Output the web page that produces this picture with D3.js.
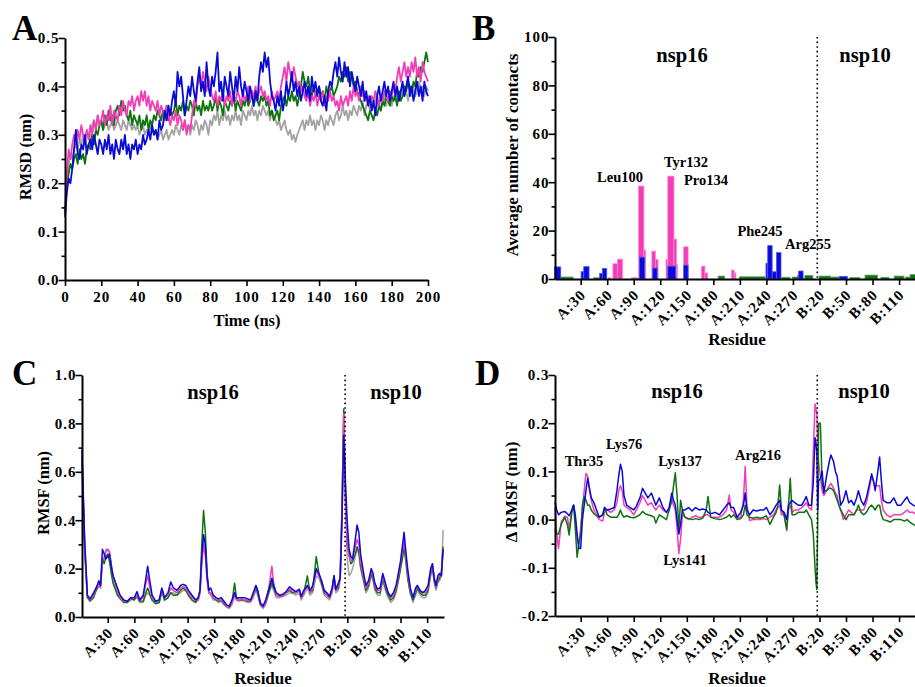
<!DOCTYPE html>
<html><head><meta charset="utf-8">
<script src="https://cdn.jsdelivr.net/npm/d3@7"></script>
<style>
body{margin:0;background:#fff}
</style></head><body>
<svg id="chart" width="915" height="687"></svg>
<script>
// ---------------- DATA ----------------
const seriesColors = { grey: "#a3a3a3", green: "#0e720e", pink: "#f23db6", blue: "#0a0ad6" };
const seriesLight  = { green: "#4f9f4f", pink: "#ff86d6", blue: "#4d55ff" };

// Panel A : RMSD (nm), one value every 1 ns, 0..200 ns
const rmsdStepNs = 1;
const rmsdGrey = [0.14,0.20,0.24,0.26,0.25,0.27,0.28,0.27,0.29,0.28,
 0.30,0.29,0.31,0.30,0.29,0.32,0.33,0.31,0.34,0.32,
 0.33,0.31,0.32,0.33,0.31,0.32,0.33,0.31,0.32,0.33,
 0.32,0.31,0.33,0.32,0.31,0.33,0.32,0.31,0.32,0.31,
 0.32,0.30,0.31,0.32,0.30,0.31,0.30,0.32,0.31,0.30,
 0.31,0.29,0.30,0.31,0.29,0.30,0.31,0.29,0.30,0.31,
 0.30,0.32,0.31,0.30,0.32,0.31,0.33,0.31,0.32,0.30,
 0.32,0.31,0.33,0.32,0.30,0.32,0.31,0.33,0.32,0.30,
 0.33,0.32,0.34,0.33,0.35,0.32,0.34,0.33,0.35,0.33,
 0.34,0.32,0.34,0.33,0.35,0.33,0.34,0.32,0.35,0.34,
 0.33,0.35,0.34,0.36,0.34,0.35,0.33,0.35,0.34,0.36,
 0.35,0.34,0.35,0.33,0.35,0.34,0.33,0.32,0.33,0.31,
 0.32,0.33,0.31,0.30,0.31,0.29,0.30,0.285,0.30,0.31,
 0.32,0.33,0.31,0.33,0.32,0.34,0.32,0.33,0.31,0.33,
 0.32,0.34,0.33,0.31,0.33,0.32,0.34,0.33,0.32,0.34,
 0.35,0.33,0.34,0.36,0.34,0.35,0.33,0.35,0.34,0.36,
 0.35,0.34,0.36,0.35,0.37,0.34,0.36,0.37,0.35,0.37,
 0.36,0.38,0.36,0.37,0.35,0.37,0.38,0.36,0.38,0.37,
 0.36,0.38,0.37,0.39,0.37,0.38,0.40,0.38,0.39,0.37,
 0.39,0.38,0.40,0.38,0.39,0.41,0.39,0.40,0.38,0.40,
 0.39];
const rmsdGreen = [0.14,0.19,0.22,0.24,0.23,0.25,0.26,0.24,0.27,0.25,
 0.26,0.24,0.27,0.28,0.27,0.30,0.28,0.31,0.30,0.32,
 0.33,0.31,0.34,0.32,0.35,0.33,0.34,0.32,0.35,0.36,
 0.34,0.37,0.35,0.36,0.34,0.33,0.35,0.32,0.34,0.33,
 0.32,0.34,0.31,0.33,0.32,0.34,0.31,0.33,0.32,0.34,
 0.33,0.35,0.34,0.33,0.35,0.34,0.36,0.33,0.35,0.34,
 0.35,0.37,0.34,0.36,0.35,0.37,0.34,0.36,0.35,0.37,
 0.36,0.34,0.37,0.35,0.36,0.34,0.37,0.35,0.36,0.35,
 0.37,0.35,0.36,0.38,0.35,0.37,0.36,0.34,0.37,0.36,
 0.35,0.37,0.36,0.38,0.35,0.37,0.36,0.35,0.37,0.36,
 0.38,0.36,0.37,0.39,0.36,0.38,0.37,0.36,0.38,0.37,
 0.38,0.36,0.37,0.34,0.35,0.33,0.34,0.35,0.33,0.36,
 0.37,0.38,0.36,0.38,0.37,0.39,0.37,0.38,0.36,0.38,
 0.40,0.43,0.41,0.40,0.42,0.39,0.38,0.40,0.38,0.39,
 0.40,0.38,0.39,0.37,0.40,0.38,0.39,0.40,0.38,0.39,
 0.40,0.42,0.41,0.43,0.42,0.44,0.41,0.43,0.42,0.40,
 0.41,0.39,0.38,0.37,0.36,0.35,0.34,0.33,0.35,0.34,
 0.33,0.35,0.34,0.36,0.35,0.37,0.36,0.38,0.37,0.36,
 0.38,0.37,0.38,0.36,0.39,0.37,0.38,0.40,0.39,0.41,
 0.40,0.39,0.41,0.40,0.43,0.42,0.44,0.43,0.45,0.47,
 0.45];
const rmsdPink = [0.14,0.22,0.27,0.25,0.28,0.30,0.28,0.31,0.29,0.32,
 0.30,0.28,0.31,0.29,0.32,0.30,0.33,0.31,0.34,0.32,
 0.33,0.35,0.32,0.34,0.33,0.36,0.32,0.35,0.34,0.33,
 0.36,0.34,0.37,0.35,0.34,0.37,0.36,0.38,0.35,0.37,
 0.38,0.36,0.39,0.37,0.39,0.36,0.38,0.35,0.37,0.36,
 0.35,0.37,0.34,0.36,0.35,0.33,0.36,0.34,0.32,0.34,
 0.33,0.35,0.32,0.34,0.33,0.31,0.33,0.30,0.32,0.31,
 0.34,0.37,0.36,0.40,0.42,0.40,0.43,0.41,0.39,0.42,
 0.40,0.38,0.37,0.39,0.36,0.38,0.37,0.39,0.36,0.38,
 0.37,0.39,0.36,0.38,0.37,0.39,0.38,0.36,0.39,0.37,
 0.38,0.40,0.37,0.39,0.38,0.40,0.37,0.39,0.40,0.38,
 0.39,0.37,0.38,0.36,0.39,0.37,0.38,0.39,0.37,0.40,
 0.42,0.44,0.41,0.45,0.43,0.41,0.44,0.42,0.40,0.41,
 0.39,0.40,0.38,0.37,0.39,0.36,0.38,0.37,0.39,0.36,
 0.38,0.37,0.39,0.36,0.38,0.37,0.39,0.37,0.38,0.36,
 0.37,0.35,0.38,0.36,0.37,0.38,0.36,0.39,0.37,0.40,
 0.38,0.39,0.37,0.40,0.38,0.39,0.37,0.38,0.36,0.38,
 0.37,0.39,0.38,0.36,0.38,0.37,0.39,0.38,0.37,0.39,
 0.38,0.40,0.39,0.42,0.44,0.41,0.43,0.45,0.42,0.44,
 0.42,0.45,0.43,0.46,0.42,0.44,0.41,0.45,0.43,0.42,
 0.41];
const rmsdBlue = [0.13,0.18,0.21,0.20,0.23,0.27,0.31,0.26,0.25,0.28,
 0.27,0.30,0.26,0.28,0.29,0.27,0.30,0.28,0.26,0.29,
 0.28,0.26,0.29,0.27,0.30,0.26,0.28,0.25,0.29,0.27,
 0.26,0.29,0.27,0.30,0.26,0.28,0.25,0.28,0.27,0.29,
 0.26,0.28,0.27,0.30,0.28,0.29,0.31,0.29,0.32,0.30,
 0.31,0.29,0.33,0.31,0.32,0.35,0.33,0.36,0.34,0.37,
 0.39,0.36,0.43,0.40,0.42,0.38,0.34,0.37,0.40,0.38,
 0.42,0.39,0.37,0.41,0.44,0.39,0.41,0.38,0.45,0.40,
 0.38,0.42,0.40,0.43,0.47,0.39,0.41,0.37,0.42,0.40,
 0.38,0.43,0.40,0.37,0.42,0.39,0.44,0.40,0.38,0.41,
 0.39,0.37,0.40,0.38,0.36,0.39,0.37,0.42,0.45,0.43,
 0.47,0.44,0.46,0.41,0.38,0.37,0.35,0.38,0.36,0.39,
 0.35,0.37,0.41,0.38,0.40,0.43,0.39,0.41,0.38,0.40,
 0.37,0.39,0.41,0.38,0.40,0.37,0.42,0.39,0.41,0.38,
 0.40,0.37,0.36,0.38,0.35,0.39,0.41,0.40,0.43,0.45,
 0.42,0.46,0.43,0.41,0.45,0.42,0.44,0.40,0.43,0.41,
 0.39,0.42,0.40,0.38,0.41,0.37,0.39,0.36,0.38,0.35,
 0.37,0.34,0.38,0.40,0.37,0.39,0.41,0.38,0.40,0.37,
 0.39,0.41,0.38,0.40,0.37,0.39,0.41,0.38,0.40,0.42,
 0.38,0.40,0.37,0.39,0.41,0.38,0.40,0.37,0.41,0.39,
 0.38];
const timeTicks = [0,20,40,60,80,100,120,140,160,180,200];

// Residue axis (continuous index: nsp16 chain A, then nsp10 chain B)
const residueTickIndex  = [30,60,90,120,150,180,210,240,270,300,330,360,390];
const residueTickLabels = ["A:30","A:60","A:90","A:120","A:150","A:180","A:210","A:240","A:270","B:20","B:50","B:80","B:110"];
const chainBoundary = 297.5;

// Panel B : average number of contacts, [fromResidue, toResidue, value]
const contactsGreen = [[8,21,0.8],[45,52,0.5],[90,96,0.4],[186,192,1.2],[210,238,0.9],[258,266,0.7],[270,275,0.8],[284,292,1.4],[300,312,1.2],[313,322,0.8],[335,345,0.6],[352,365,1.6],[370,378,0.7],[385,395,1.2],[398,402,0.8],[403,408,1.8]];
const contactsPink = [[62,63,0.5],[67,71,6.3],[72,77,8.2],[88,92,0.5],[96,101,38.4],[102,103,12],[111,114,11.5],[115,117,8],[127,128,8],[129,135,42.5],[136,138,16.5],[139,139,6],[147,151,13.3],[167,170,5.3],[171,173,2.5],[201,203,3.7],[204,205,2.5]];
const contactsBlue = [[1,7,5],[31,33,3],[34,39,5.1],[52,54,2.3],[55,59,4.4],[97,102,9],[112,116,4.5],[129,137,5.3],[147,151,5.7],[240,241,6.5],[242,246,13.8],[247,251,3],[252,256,10.9],[276,276,1.5],[277,281,3.3],[323,331,1.1]];
const contactLabels = ["Leu100","Tyr132","Pro134","Phe245","Arg255"];

// Panel C : RMSF (nm)
const rmsfResidue = [1,4,7,10,14,17,20,22,24,26,
 28,30,32,34,36,38,41,44,48,52,
 56,60,63,66,70,73,75,77,80,84,
 88,91,94,98,101,104,108,112,115,118,
 121,125,129,132,134,136,138,140,142,144,
 146,149,152,155,158,161,164,167,170,173,
 175,178,181,184,188,191,194,197,199,202,
 205,208,212,215,217,220,224,228,231,235,
 238,242,246,248,251,255,258,261,265,268,
 271,274,277,280,283,285,287,290,292,294,
 296,298,300,302,304,306,309,311,313,315,
 318,321,324,327,329,331,334,337,340,343,
 346,349,352,355,358,360,362,364,366,368,
 371,374,377,379,382,385,388,391,394,396,
 398,400,402,404,406,408];
const rmsfGrey = [0.66,0.30,0.09,0.07,0.09,0.12,0.14,0.13,0.22,0.25,
 0.28,0.28,0.26,0.20,0.15,0.13,0.10,0.08,0.065,0.06,
 0.07,0.075,0.08,0.06,0.06,0.09,0.10,0.09,0.07,0.06,
 0.06,0.10,0.07,0.08,0.10,0.10,0.09,0.10,0.11,0.11,
 0.09,0.07,0.06,0.07,0.10,0.24,0.33,0.28,0.16,0.10,
 0.09,0.07,0.07,0.06,0.065,0.05,0.04,0.035,0.05,0.09,
 0.07,0.065,0.07,0.065,0.06,0.06,0.08,0.11,0.09,0.05,
 0.035,0.05,0.10,0.13,0.11,0.08,0.08,0.085,0.09,0.10,
 0.10,0.09,0.10,0.07,0.09,0.12,0.09,0.10,0.17,0.16,
 0.13,0.09,0.08,0.07,0.10,0.15,0.10,0.11,0.15,0.40,
 0.80,0.45,0.24,0.17,0.18,0.20,0.25,0.28,0.26,0.20,
 0.15,0.10,0.12,0.17,0.15,0.11,0.09,0.09,0.15,0.11,
 0.08,0.06,0.07,0.10,0.16,0.20,0.24,0.30,0.24,0.17,
 0.10,0.06,0.09,0.11,0.09,0.08,0.08,0.10,0.17,0.20,
 0.14,0.11,0.14,0.15,0.17,0.36];
const rmsfGreen = [0.64,0.28,0.08,0.065,0.08,0.11,0.13,0.14,0.24,0.22,
 0.25,0.26,0.23,0.18,0.14,0.12,0.09,0.075,0.06,0.06,
 0.075,0.07,0.09,0.065,0.065,0.10,0.12,0.10,0.07,0.055,
 0.06,0.11,0.07,0.08,0.10,0.09,0.09,0.11,0.12,0.11,
 0.09,0.07,0.06,0.08,0.11,0.30,0.44,0.35,0.18,0.10,
 0.10,0.08,0.07,0.065,0.07,0.055,0.045,0.04,0.06,0.14,
 0.08,0.07,0.07,0.07,0.065,0.065,0.09,0.12,0.10,0.05,
 0.04,0.06,0.11,0.14,0.12,0.09,0.085,0.09,0.10,0.11,
 0.10,0.10,0.11,0.08,0.10,0.17,0.10,0.11,0.25,0.18,
 0.14,0.10,0.09,0.08,0.12,0.17,0.11,0.12,0.17,0.45,
 0.86,0.50,0.30,0.26,0.22,0.23,0.26,0.29,0.27,0.21,
 0.16,0.11,0.13,0.18,0.16,0.12,0.10,0.10,0.16,0.12,
 0.09,0.07,0.08,0.11,0.16,0.20,0.24,0.29,0.23,0.16,
 0.10,0.07,0.10,0.12,0.10,0.09,0.09,0.11,0.18,0.21,
 0.15,0.12,0.15,0.16,0.18,0.29];
const rmsfPink = [0.66,0.30,0.09,0.07,0.09,0.12,0.13,0.12,0.24,0.24,
 0.27,0.28,0.27,0.22,0.17,0.15,0.11,0.08,0.065,0.065,
 0.075,0.08,0.09,0.07,0.08,0.14,0.17,0.13,0.08,0.065,
 0.07,0.115,0.08,0.09,0.12,0.11,0.10,0.12,0.125,0.12,
 0.10,0.08,0.07,0.07,0.10,0.22,0.30,0.25,0.15,0.10,
 0.10,0.08,0.075,0.07,0.07,0.06,0.045,0.04,0.06,0.09,
 0.07,0.07,0.075,0.07,0.07,0.065,0.09,0.13,0.11,0.055,
 0.04,0.06,0.13,0.21,0.14,0.09,0.085,0.09,0.10,0.115,
 0.11,0.10,0.11,0.08,0.10,0.13,0.10,0.12,0.19,0.17,
 0.15,0.11,0.09,0.08,0.11,0.16,0.11,0.13,0.17,0.44,
 0.84,0.48,0.30,0.25,0.23,0.24,0.29,0.32,0.30,0.23,
 0.17,0.12,0.14,0.19,0.17,0.13,0.11,0.11,0.17,0.13,
 0.10,0.08,0.09,0.12,0.18,0.22,0.27,0.32,0.25,0.18,
 0.11,0.08,0.11,0.13,0.11,0.10,0.10,0.12,0.19,0.22,
 0.16,0.12,0.16,0.17,0.17,0.28];
const rmsfBlue = [0.69,0.32,0.09,0.075,0.10,0.12,0.15,0.13,0.28,0.26,
 0.24,0.25,0.26,0.21,0.17,0.15,0.12,0.09,0.07,0.065,
 0.08,0.08,0.105,0.07,0.09,0.16,0.21,0.16,0.09,0.065,
 0.07,0.12,0.08,0.10,0.145,0.12,0.11,0.13,0.135,0.13,
 0.11,0.09,0.07,0.08,0.11,0.25,0.34,0.30,0.17,0.11,
 0.12,0.09,0.08,0.075,0.08,0.065,0.05,0.045,0.07,0.10,
 0.08,0.08,0.08,0.08,0.075,0.07,0.10,0.13,0.11,0.06,
 0.045,0.07,0.12,0.16,0.13,0.10,0.09,0.095,0.105,0.125,
 0.115,0.105,0.115,0.085,0.11,0.13,0.11,0.13,0.20,0.18,
 0.15,0.11,0.10,0.085,0.12,0.17,0.115,0.14,0.16,0.40,
 0.75,0.55,0.39,0.28,0.25,0.24,0.32,0.38,0.35,0.26,
 0.19,0.13,0.15,0.20,0.18,0.14,0.115,0.12,0.18,0.14,
 0.10,0.085,0.10,0.13,0.19,0.23,0.29,0.35,0.27,0.20,
 0.12,0.08,0.12,0.13,0.11,0.10,0.11,0.13,0.20,0.22,
 0.16,0.13,0.17,0.18,0.17,0.28];

// Panel D : delta RMSF (nm)
const dResidue = [1,3,5,8,12,15,17,20,22,24,
 26,28,30,32,34,36,38,40,42,45,
 48,51,55,57,60,64,68,71,73,75,
 77,79,82,86,90,93,97,100,103,106,
 110,113,115,119,123,127,130,133,135,137,
 139,141,143,145,148,152,156,160,164,168,
 172,174,177,182,187,191,195,198,200,203,
 207,211,214,216,218,221,225,229,233,237,
 240,244,248,251,253,255,257,260,263,265,
 267,269,272,276,280,283,285,288,291,293,
 295,296,297,298,299,301,303,305,308,311,
 313,316,318,320,322,324,327,330,333,336,
 339,342,344,347,350,353,356,359,361,363,
 366,368,370,372,376,380,384,388,392,396,
 399,402,406,408];
const dPink = [0.027,-0.03,-0.06,-0.005,0.007,0.005,-0.02,0.02,0.03,0.0,
 -0.04,-0.05,-0.02,0.02,0.06,0.096,0.09,0.06,0.04,0.02,
 0.01,0.0,-0.003,0.015,0.02,0.015,0.02,0.035,0.06,0.07,
 0.06,0.03,0.025,0.02,0.01,0.02,0.035,0.05,0.04,0.03,
 0.035,0.025,0.02,0.03,0.02,0.015,0.02,0.04,0.03,0.02,
 -0.02,-0.07,-0.04,0.01,0.005,0.0,0.005,0.008,0.004,0.006,
 0.01,0.01,0.005,0.005,0.005,0.01,0.02,0.051,0.02,0.015,
 0.003,0.005,0.04,0.11,0.03,-0.002,0.0,0.0,0.0,0.002,
 0.0,0.005,0.01,0.02,0.025,0.03,0.01,0.01,-0.023,0.02,
 0.03,0.015,0.02,0.02,0.025,0.03,0.035,0.025,0.02,0.14,
 0.24,0.23,0.22,0.15,0.12,0.09,0.06,0.05,0.06,0.07,
 0.075,0.065,0.055,0.05,0.03,0.02,0.0,0.01,0.02,0.015,
 0.01,0.02,0.02,0.02,0.02,0.035,0.06,0.09,0.08,0.07,
 0.07,0.07,0.04,0.02,0.01,0.005,0.01,0.01,0.01,0.015,
 0.02,0.015,0.015,0.012];
const dGreen = [-0.02,-0.03,-0.03,-0.01,0.005,-0.01,-0.032,0.015,0.03,-0.02,
 -0.078,-0.05,-0.03,0.03,0.048,0.04,0.03,0.03,0.02,0.012,
 0.008,0.005,0.01,0.025,0.01,0.005,0.005,0.005,0.01,0.02,
 0.01,0.005,0.008,0.005,0.004,0.006,0.01,0.017,0.012,0.01,
 0.008,0.005,-0.007,0.01,0.005,0.0,0.02,0.04,0.07,0.097,
 0.05,-0.02,0.04,0.02,0.005,0.002,0.0,0.002,0.0,0.003,
 0.02,0.048,0.005,0.002,0.0,0.002,0.005,0.01,0.005,0.01,
 0.0,0.002,0.01,0.03,0.01,0.005,0.003,0.005,0.003,0.005,
 0.008,-0.01,0.005,0.015,0.03,0.072,0.02,0.01,-0.02,0.03,
 0.086,0.01,0.01,0.015,0.015,0.015,0.02,0.01,0.0,-0.03,
 -0.1,-0.13,-0.145,0.0,0.2,0.2,0.075,0.06,0.06,0.065,
 0.065,0.06,0.05,0.04,0.03,0.02,0.01,0.0,0.01,0.01,
 0.01,0.02,0.03,0.015,0.01,0.015,0.025,0.03,0.025,0.02,
 0.03,0.03,0.01,0.0,-0.002,-0.005,0.0,0.0,0.0,-0.003,
 0.0,-0.005,-0.01,-0.012];
const dBlue = [0.037,0.02,0.01,0.015,0.017,0.012,0.008,0.02,0.03,0.01,
 -0.03,-0.06,-0.06,0.0,0.03,0.06,0.086,0.065,0.045,0.035,
 0.02,0.005,0.01,0.025,0.02,0.022,0.025,0.06,0.09,0.115,
 0.1,0.05,0.03,0.025,0.02,0.028,0.045,0.065,0.055,0.045,
 0.055,0.04,0.03,0.045,0.025,0.015,0.025,0.055,0.04,0.03,
 0.0,-0.03,-0.01,0.02,0.02,0.025,0.018,0.025,0.02,0.022,
 0.02,0.015,0.012,0.015,0.01,0.02,0.03,0.035,0.025,0.025,
 0.005,0.015,0.03,0.055,0.02,0.01,0.02,0.018,0.02,0.02,
 0.025,0.01,0.02,0.03,0.035,0.04,0.02,0.015,0.0,0.03,
 0.035,0.04,0.035,0.03,0.03,0.04,0.048,0.03,0.03,0.076,
 0.17,0.16,0.14,0.02,0.08,0.085,0.1,0.055,0.09,0.12,
 0.134,0.12,0.1,0.09,0.06,0.03,0.04,0.06,0.035,0.04,
 0.03,0.045,0.06,0.04,0.03,0.045,0.07,0.095,0.08,0.06,
 0.1,0.13,0.08,0.04,0.035,0.035,0.045,0.03,0.03,0.04,
 0.047,0.035,0.03,0.028];
const dLabels = ["Thr35","Lys76","Lys137","Lys141","Arg216"];

// ---------------- DRAWING ----------------
const FONT = '"Liberation Serif","Times New Roman",serif';
const svg = d3.select("#chart");

const xA = d3.scaleLinear().domain([0,200]).range([65,428]);
const yA = d3.scaleLinear().domain([0,0.5]).range([280,38]);
const xB = d3.scaleLinear().domain([1,408]).range([555,915]);
const yB = d3.scaleLinear().domain([0,100]).range([279,37]);
const xC = d3.scaleLinear().domain([1,409]).range([82,444]);
const yC = d3.scaleLinear().domain([0,1]).range([617,375]);
const xD = d3.scaleLinear().domain([1,408]).range([555,915]);
const yD = d3.scaleLinear().domain([-0.2,0.3]).range([616,375]);

function txt(x, y, s, size, anchor = "middle", rot = 0) {
  return svg.append("text")
    .attr("transform", `translate(${x},${y})` + (rot ? ` rotate(${rot})` : ""))
    .attr("text-anchor", anchor)
    .attr("font-family", FONT).attr("font-weight", "bold")
    .attr("font-size", size).attr("fill", "#000").text(s);
}
function styleAxis(g) {
  g.attr("font-family", null).attr("font-size", null);
  g.select(".domain").attr("stroke", "#000").attr("stroke-width", 2);
  g.selectAll(".tick line").attr("stroke", "#000").attr("stroke-width", 1.6);
  g.selectAll("text").attr("font-family", FONT).attr("font-weight", "bold")
    .attr("font-size", 15).attr("letter-spacing", 1).attr("fill", "#000");
}
function drawYAxis(xPos, scale, majors, minors, fmt) {
  const gm = svg.append("g").attr("transform", `translate(${xPos},0)`)
    .call(d3.axisLeft(scale).tickValues(minors).tickSize(3.5).tickSizeOuter(0).tickFormat(""));
  gm.select(".domain").remove();
  gm.selectAll("line").attr("stroke", "#000").attr("stroke-width", 1.6);
  const g = svg.append("g").attr("transform", `translate(${xPos},0)`)
    .call(d3.axisLeft(scale).tickValues(majors).tickSize(6.5).tickSizeOuter(0).tickPadding(-1).tickFormat(fmt));
  styleAxis(g);
}
function drawResidueAxis(scale, yPos) {
  const g = svg.append("g").attr("transform", `translate(0,${yPos})`)
    .call(d3.axisBottom(scale).tickValues(residueTickIndex).tickSize(6).tickSizeOuter(0)
      .tickFormat((d, i) => residueTickLabels[i]));
  styleAxis(g);
  g.selectAll("text").attr("y", null).attr("dy", "0.35em").attr("text-anchor", "end")
    .attr("transform", "translate(2,13) rotate(-45)");
}
function drawLine(xs, ys, xScale, yScale, color, w) {
  const pts = xs.map((x, i) => [x, ys[i]]);
  svg.append("path").datum(pts)
    .attr("d", d3.line().x(d => xScale(d[0])).y(d => yScale(d[1])))
    .attr("fill", "none").attr("stroke", color).attr("stroke-width", w)
    .attr("stroke-linejoin", "round");
}
function dotted(xScale, p, y0, y1) {
  svg.append("line").attr("x1", xScale(p)).attr("x2", xScale(p)).attr("y1", y0).attr("y2", y1)
    .attr("stroke", "#000").attr("stroke-width", 1.6).attr("stroke-dasharray", "1.6,3");
}
const fmt1 = v => v.toFixed(1);

// ---- Panel A ----
const rmsdTime = rmsdGrey.map((_, i) => i * rmsdStepNs);
drawLine(rmsdTime, rmsdGrey, xA, yA, seriesColors.grey, 1.8);
drawLine(rmsdTime, rmsdGreen, xA, yA, seriesColors.green, 1.8);
drawLine(rmsdTime, rmsdPink, xA, yA, seriesColors.pink, 1.8);
drawLine(rmsdTime, rmsdBlue, xA, yA, seriesColors.blue, 1.8);
drawYAxis(65, yA, [0,0.1,0.2,0.3,0.4,0.5], [0.05,0.15,0.25,0.35,0.45], fmt1);
{
  const g = svg.append("g").attr("transform", "translate(0,280)")
    .call(d3.axisBottom(xA).tickValues(timeTicks).tickSize(6).tickSizeOuter(0).tickPadding(5));
  styleAxis(g);
}
txt(12, 40, "A", 35, "start");
txt(247, 326, "Time (ns)", 16.5);
txt(31, 157, "RMSD (nm)", 16.5, "middle", -90);

// ---- Panel B ----
function drawContacts(segs, color, light) {
  svg.append("g").selectAll("rect").data(segs).join("rect")
    .attr("x", d => xB(d[0] - 0.5)).attr("width", d => xB(d[1] + 0.5) - xB(d[0] - 0.5))
    .attr("y", d => yB(d[2])).attr("height", d => yB(0) - yB(d[2]))
    .attr("fill", color).attr("stroke", light).attr("stroke-width", 0.8);
}
drawContacts(contactsGreen, seriesColors.green, seriesLight.green);
drawContacts(contactsPink, seriesColors.pink, seriesLight.pink);
drawContacts(contactsBlue, seriesColors.blue, seriesLight.blue);
dotted(xB, chainBoundary, 37, 279);
drawYAxis(555, yB, [0,20,40,60,80,100], [10,30,50,70,90], v => String(v));
drawResidueAxis(xB, 279);
txt(472, 40, "B", 35, "start");
txt(518, 155, "Average number of contacts", 17, "middle", -90);
txt(737, 345, "Residue", 17);
txt(682, 62, "nsp16", 20.5);
txt(865, 62, "nsp10", 20.5);
txt(620, 182, contactLabels[0], 14.5);
txt(686, 167, contactLabels[1], 14.5);
txt(706, 185, contactLabels[2], 14.5);
txt(760, 236, contactLabels[3], 14.5);
txt(808, 249, contactLabels[4], 14.5);

// ---- Panel C ----
drawLine(rmsfResidue, rmsfGrey, xC, yC, seriesColors.grey, 1.5);
drawLine(rmsfResidue, rmsfGreen, xC, yC, seriesColors.green, 1.5);
drawLine(rmsfResidue, rmsfPink, xC, yC, seriesColors.pink, 1.5);
drawLine(rmsfResidue, rmsfBlue, xC, yC, seriesColors.blue, 1.5);
dotted(xC, chainBoundary, 375, 617);
drawYAxis(82, yC, [0,0.2,0.4,0.6,0.8,1.0], [0.1,0.3,0.5,0.7,0.9], fmt1);
drawResidueAxis(xC, 617);
txt(12, 385, "C", 35, "start");
txt(49, 493, "RMSF (nm)", 16.5, "middle", -90);
txt(263, 684, "Residue", 17);
txt(213, 399, "nsp16", 20.5);
txt(396, 399, "nsp10", 20.5);

// ---- Panel D ----
drawLine(dResidue, dPink, xD, yD, seriesColors.pink, 1.5);
drawLine(dResidue, dGreen, xD, yD, seriesColors.green, 1.5);
drawLine(dResidue, dBlue, xD, yD, seriesColors.blue, 1.5);
dotted(xD, chainBoundary, 375, 616);
drawYAxis(555, yD, [-0.2,-0.1,0,0.1,0.2,0.3], [-0.15,-0.05,0.05,0.15,0.25], fmt1);
drawResidueAxis(xD, 616);
txt(475, 385, "D", 35, "start");
txt(517, 492, "Δ RMSF (nm)", 17, "middle", -90);
txt(737, 684, "Residue", 17);
txt(677, 398, "nsp16", 20.5);
txt(864, 398, "nsp10", 20.5);
txt(584, 466, dLabels[0], 14.5);
txt(624, 449, dLabels[1], 14.5);
txt(680, 466, dLabels[2], 14.5);
txt(685, 565, dLabels[3], 14.5);
txt(758, 460, dLabels[4], 14.5);
</script></body></html>
